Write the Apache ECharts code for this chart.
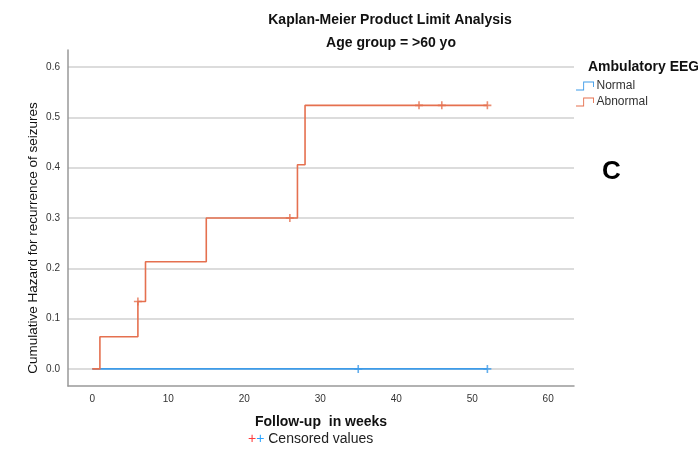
<!DOCTYPE html>
<html>
<head>
<meta charset="utf-8">
<script src="https://cdn.jsdelivr.net/npm/echarts@6/dist/echarts.min.js"></script>
<style>html,body{margin:0;padding:0;background:#fff}#c{width:698px;height:450px}</style>
</head>
<body>
<div id="c"></div>
<script>
const abnormalTimes = [0, 1, 6, 7, 15, 27, 28, 52];
const abnormalHazard = [0, 0.064, 0.134, 0.213, 0.300, 0.406, 0.524, 0.524];
const abnormalCensorTimes = [6, 26, 43, 46, 52];
const abnormalCensorHazard = [0.134, 0.300, 0.524, 0.524, 0.524];
const normalTimes = [0, 52];
const normalHazard = [0, 0];
const normalCensorTimes = [35, 52];
const normalCensorHazard = [0, 0];
const xTicks = [0, 10, 20, 30, 40, 50, 60];
const yTicks = [0, 0.1, 0.2, 0.3, 0.4, 0.5, 0.6];

const RED = '#e5704f';
const BLUE = '#3d9be9';
const FONT = 'Liberation Sans, Arial, sans-serif';
const PLUS = 'path://M4,0 L6,0 L6,4 L10,4 L10,6 L6,6 L6,10 L4,10 L4,6 L0,6 L0,4 L4,4 Z';
const STEP_ICON = 'path://M0,9 L8,9 L8,0 L20,0 L20,6 L19,6 L19,1 L9,1 L9,10 L0,10 Z';

const pairs = (xs, ys) => xs.map((x, i) => [x, ys[i]]);

const chart = echarts.init(document.getElementById('c'), null, {renderer: 'canvas'});
chart.setOption({
  animation: false,
  backgroundColor: '#fff',
  title: [
    {text: 'Kaplan-Meier Product Limit Analysis', left: 385, top: 8, textAlign: 'center',
     textStyle: {fontFamily: FONT, fontSize: 14, fontWeight: 'bold', color: '#111'}},
    {text: 'Age group = >60 yo', left: 386, top: 31, textAlign: 'center',
     textStyle: {fontFamily: FONT, fontSize: 14, fontWeight: 'bold', color: '#111'}},
    {text: 'Ambulatory EEG', left: 583, top: 55,
     textStyle: {fontFamily: FONT, fontSize: 14, fontWeight: 'bold', color: '#111'}}
  ],
  legend: {
    data: [
      {name: 'Normal', icon: STEP_ICON, itemStyle: {color: BLUE}},
      {name: 'Abnormal', icon: STEP_ICON, itemStyle: {color: RED}}
    ],
    orient: 'vertical', left: 576, top: 80, itemGap: 4,
    itemWidth: 21, itemHeight: 9, padding: 0,
    textStyle: {fontFamily: FONT, fontSize: 12, color: '#333', padding: [0, 0, 0, -4]}
  },
  grid: {left: 68, right: 124, top: 50, bottom: 64, containLabel: false},
  xAxis: {
    type: 'value', min: -3.2, max: 63.4,
    name: 'Follow-up  in weeks', nameLocation: 'middle', nameGap: 29,
    nameTextStyle: {fontFamily: FONT, fontSize: 14, fontWeight: 'bold', color: '#111'},
    axisLine: {show: true, onZero: false, lineStyle: {color: '#999', width: 1.5}},
    axisTick: {show: false, customValues: xTicks},
    axisLabel: {customValues: xTicks, fontFamily: FONT, fontSize: 10, color: '#333', margin: 8},
    splitLine: {show: false}
  },
  yAxis: {
    type: 'value', min: -0.034, max: 0.634,
    name: 'Cumulative Hazard for recurrence of seizures', nameLocation: 'middle', nameGap: 28,
    nameMoveOverlap: false,
    nameTextStyle: {fontFamily: FONT, fontSize: 13.5, color: '#111', padding: [0, 40, 0, 0]},
    axisLine: {show: true, onZero: false, lineStyle: {color: '#999', width: 1.5}},
    axisTick: {show: false, customValues: yTicks},
    axisLabel: {customValues: yTicks, fontFamily: FONT, fontSize: 10, color: '#333', margin: 8,
      formatter: v => v.toFixed(1)},
    splitLine: {show: true, lineStyle: {color: '#d0d0d0', width: 1.5}}
  },
  graphic: [
    {type: 'text', left: 248, top: 432, style: {
      text: '{r|+}{b|+} Censored values',
      font: '14px ' + FONT, fill: '#222',
      rich: {r: {fill: '#ff3b3b', fontSize: 14, fontFamily: FONT}, b: {fill: '#29a3ff', fontSize: 14, fontFamily: FONT}}
    }},
    {type: 'text', left: 602, top: 159, style: {
      text: 'C', font: 'bold 26px ' + FONT, fill: '#000'
    }}
  ],
  series: [
    {name: 'Normal', type: 'line', step: 'end', data: pairs(normalTimes, normalHazard),
     showSymbol: false, lineStyle: {color: BLUE, width: 1.6}, itemStyle: {color: BLUE}, z: 2},
    {name: 'Abnormal', type: 'line', step: 'end', data: pairs(abnormalTimes, abnormalHazard),
     showSymbol: false, lineStyle: {color: RED, width: 1.6}, itemStyle: {color: RED}, z: 3},
    {name: 'Normal', type: 'scatter', data: pairs(normalCensorTimes, normalCensorHazard),
     symbol: PLUS, symbolSize: 8, itemStyle: {color: BLUE}, z: 4},
    {name: 'Abnormal', type: 'scatter', data: pairs(abnormalCensorTimes, abnormalCensorHazard),
     symbol: PLUS, symbolSize: 8, itemStyle: {color: RED}, z: 5}
  ]
});
</script>
</body>
</html>
